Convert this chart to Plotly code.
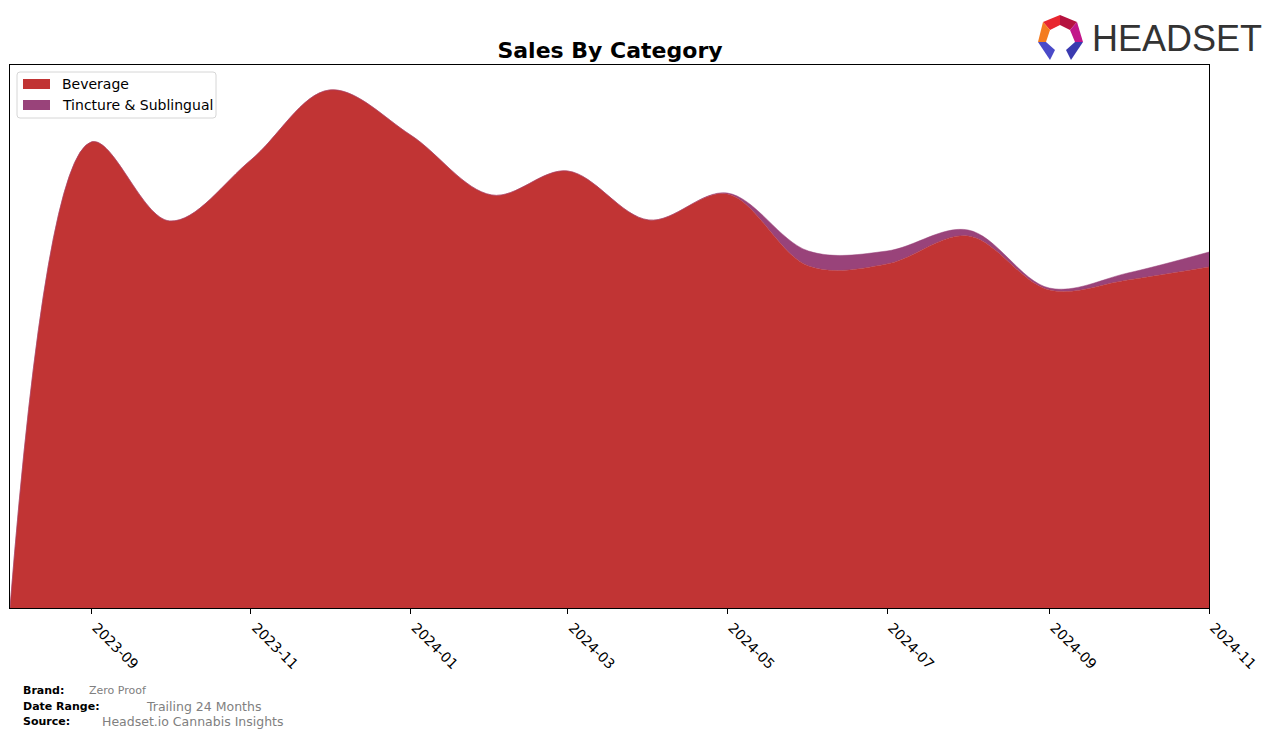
import plotly.graph_objects as go

months = ["2023-08-01", "2023-09-01", "2023-10-01", "2023-11-01", "2023-12-01",
          "2024-01-01", "2024-02-01", "2024-03-01", "2024-04-01", "2024-05-01",
          "2024-06-01", "2024-07-01", "2024-08-01", "2024-09-01", "2024-10-01",
          "2024-11-01"]
beverage = [0, 466, 387, 448, 518, 473, 413, 437, 388, 414, 342, 344, 372, 318, 328, 341]
tincture = [0, 0, 0, 0, 0, 0, 0, 0, 0, 1, 15, 13, 6, 2, 7, 15]
tick_vals = ["2023-09-01", "2023-11-01", "2024-01-01", "2024-03-01", "2024-05-01",
             "2024-07-01", "2024-09-01", "2024-11-01"]
tick_text = ["2023-09", "2023-11", "2024-01", "2024-03", "2024-05", "2024-07", "2024-09", "2024-11"]
series_names = ["Beverage", "Tincture & Sublingual"]

RED = "#c13434"
PURPLE = "#99437a"
colors = [RED, PURPLE]

fig = go.Figure()
for name, vals, col in zip(series_names, [beverage, tincture], colors):
    fig.add_trace(go.Scatter(x=months, y=vals, name=name, stackgroup="one", showlegend=False,
                             mode="lines", line=dict(color=col, width=0.5, shape="spline", smoothing=1.0),
                             fillcolor=col))

W, H = 1276, 738
L, R, T, B = 10, 1209, 65, 608

def px(x):
    return (x - L) / (R - L)

def py(y):
    return (B - y) / (B - T)

shapes = []
# logo icon polygons (pixel coords)
polys = [
    ([(1043, 22), (1060, 15), (1060, 25), (1050, 30)], "#e8262f"),
    ([(1060, 15), (1077, 22), (1070, 30), (1060, 25)], "#b5123f"),
    ([(1077, 22), (1083, 42), (1075, 42), (1070, 30)], "#c2168a"),
    ([(1043, 22), (1050, 30), (1046, 42), (1038, 42)], "#f47c20"),
    ([(1038, 42), (1046, 42), (1055, 50), (1050, 60)], "#4a4ac8"),
    ([(1083, 42), (1075, 42), (1066, 50), (1071, 60)], "#3a3ab0"),
]
for pts, col in polys:
    path = "M " + " L ".join(f"{px(a):.5f},{py(b):.5f}" for a, b in pts) + " Z"
    shapes.append(dict(type="path", xref="paper", yref="paper", path=path,
                       fillcolor=col, line=dict(width=0)))

# legend box (rounded)
x0, x1, y0, y1, r = 17, 216, 72, 118, 3
lp = (f"M {px(x0+r)},{py(y0)} L {px(x1-r)},{py(y0)} Q {px(x1)},{py(y0)} {px(x1)},{py(y0+r)} "
      f"L {px(x1)},{py(y1-r)} Q {px(x1)},{py(y1)} {px(x1-r)},{py(y1)} "
      f"L {px(x0+r)},{py(y1)} Q {px(x0)},{py(y1)} {px(x0)},{py(y1-r)} "
      f"L {px(x0)},{py(y0+r)} Q {px(x0)},{py(y0)} {px(x0+r)},{py(y0)} Z")
shapes.append(dict(type="path", xref="paper", yref="paper", path=lp, fillcolor="rgba(255,255,255,0.8)",
                   line=dict(color="#d6d6d6", width=1)))

annotations = []
for i, (name, col) in enumerate(zip(series_names, colors)):
    yc = 84 + i * 21
    shapes.append(dict(type="rect", xref="paper", yref="paper", x0=px(23), x1=px(50),
                       y0=py(yc - 5), y1=py(yc + 5), fillcolor=col, line=dict(width=0)))
    annotations.append(dict(text=name, x=px(60), y=py(yc), xref="paper", yref="paper", xanchor="left",
                            yanchor="middle", showarrow=False,
                            font=dict(family="DejaVu Sans", size=14, color="black")))

annotations += [
    dict(text="HEADSET", x=px(1090), y=py(39), xref="paper", yref="paper", xanchor="left",
         yanchor="middle", showarrow=False,
         font=dict(family="Liberation Sans", size=36, color="#333333")),
    dict(text="<b>Brand:</b>", x=px(21), y=py(690), xref="paper", yref="paper", xanchor="left",
         yanchor="middle", showarrow=False, font=dict(family="DejaVu Sans", size=11, color="black")),
    dict(text="Zero Proof", x=px(87), y=py(690), xref="paper", yref="paper", xanchor="left",
         yanchor="middle", showarrow=False, font=dict(family="DejaVu Sans", size=11, color="#808080")),
    dict(text="<b>Date Range:</b>", x=px(21), y=py(706), xref="paper", yref="paper", xanchor="left",
         yanchor="middle", showarrow=False, font=dict(family="DejaVu Sans", size=11, color="black")),
    dict(text="Trailing 24 Months", x=px(144), y=py(706), xref="paper", yref="paper", xanchor="left",
         yanchor="middle", showarrow=False, font=dict(family="DejaVu Sans", size=12.5, color="#808080")),
    dict(text="<b>Source:</b>", x=px(21), y=py(721), xref="paper", yref="paper", xanchor="left",
         yanchor="middle", showarrow=False, font=dict(family="DejaVu Sans", size=11, color="black")),
    dict(text="Headset.io Cannabis Insights", x=px(100), y=py(721), xref="paper", yref="paper", xanchor="left",
         yanchor="middle", showarrow=False, font=dict(family="DejaVu Sans", size=12.5, color="#808080")),
]

fig.update_layout(
    width=W, height=H,
    margin=dict(l=L, r=W - R, t=T, b=H - B),
    paper_bgcolor="white", plot_bgcolor="white",
    font=dict(family="DejaVu Sans", size=13, color="black"),
    title=dict(text="<b>Sales By Category</b>", x=px(610), xref="paper", y=1 - 50 / H, yanchor="middle",
               xanchor="center", font=dict(family="DejaVu Sans", size=22, color="black")),
    showlegend=False,
    xaxis=dict(range=["2023-08-01", "2024-11-01"], tickvals=tick_vals, ticktext=tick_text,
               tickangle=45, ticks="outside", ticklen=5, tickcolor="black", ticklabelshift=5,
               showline=True, linecolor="black", linewidth=1, mirror=True, showgrid=False,
               zeroline=False, tickfont=dict(family="DejaVu Sans", size=14, color="black")),
    yaxis=dict(range=[0, 543], showticklabels=False, ticks="", showline=True, linecolor="black",
               linewidth=1, mirror=True, showgrid=False, zeroline=False),
    shapes=shapes,
    annotations=annotations,
)

fig.write_html("out.html")
